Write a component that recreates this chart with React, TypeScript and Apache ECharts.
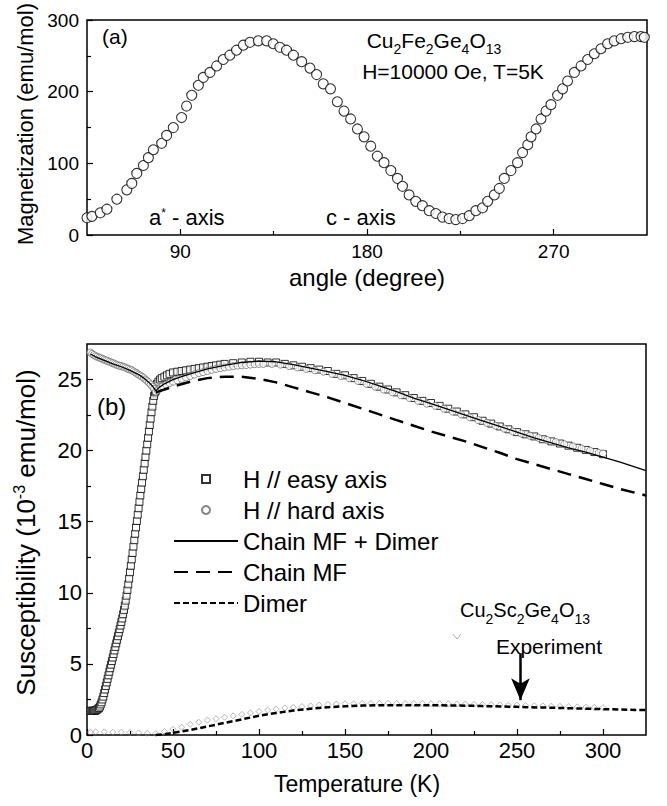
import React, { useEffect, useRef } from 'react';
import * as echarts from 'echarts';

const FONT = '"Liberation Sans", Arial, Helvetica, sans-serif';

// ---------- Panel (a): magnetization vs angle ----------
const angleMagnetization: number[][] = [
  [45, 24], [47.4, 26], [51.4, 31], [54.6, 36], [59.4, 50], [64.2, 63], [66.6, 72], [69.0, 86],
  [72.2, 97], [74.6, 108], [77.0, 119], [81.0, 128], [83.4, 139], [86.6, 150], [90.6, 164],
  [93.0, 180], [95.5, 195], [98.7, 209], [101.1, 220], [104.3, 227], [107.5, 236], [110.7, 245],
  [113.9, 251], [117.1, 258], [120.4, 265], [123.6, 269], [127.6, 271], [131.6, 271], [134.8, 267],
  [138.0, 262], [141.2, 258], [144.5, 251], [148.5, 242], [152.5, 233], [155.7, 224], [158.9, 211],
  [162.4, 204], [165.7, 186], [168.9, 173], [172.1, 162], [175.4, 148], [178.6, 137], [181.8, 124],
  [185.0, 110], [188.2, 101], [191.5, 90], [194.7, 79], [197.1, 68], [200.3, 56], [203.5, 47],
  [206.7, 41], [210.0, 34], [213.2, 30], [216.4, 25], [219.6, 23], [222.8, 21.5], [226.1, 23],
  [229.3, 27], [232.5, 34], [235.7, 38], [238.2, 47], [241.4, 56], [243.8, 65], [246.2, 79],
  [249.4, 90], [252.6, 101], [255.0, 115], [257.5, 126], [259.1, 137], [261.5, 148], [263.9, 162],
  [266.3, 173], [268.7, 182], [271.9, 195], [274.3, 204], [276.7, 215], [280.0, 227], [283.2, 236],
  [286.4, 245], [289.6, 253], [292.8, 260], [296.0, 267], [299.2, 271], [302.5, 274], [305.7, 276],
  [308.9, 277], [312.1, 277], [313.7, 276]
];
const angleLabelTicks = [90, 180, 270];
const angleMinorTicks = [135, 225];
const magLabelTicks = [0, 100, 200, 300];
const magMinorTicks = [50, 150, 250];

// ---------- Panel (b): susceptibility vs temperature ----------
const easyAxis: number[][] = [
  [2, 1.7], [2.5, 1.7], [3, 1.7], [3.5, 1.7], [4, 1.7], [4.5, 1.7], [5, 1.72], [5.5, 1.75], [6, 1.8],
  [6.5, 1.85], [7, 1.9], [7.5, 2.0], [8, 2.15], [8.5, 2.3], [9, 2.5], [9.5, 2.7], [10, 2.95],
  [10.5, 3.2], [11, 3.45], [11.5, 3.7], [12, 3.95], [12.5, 4.2], [13, 4.45], [13.5, 4.7], [14, 4.95],
  [14.5, 5.2], [15, 5.45], [15.5, 5.7], [16, 5.95], [16.5, 6.2], [17, 6.45], [17.5, 6.7], [18, 6.95],
  [18.5, 7.2], [19, 7.45], [19.5, 7.7], [20, 7.95], [20.5, 8.2], [21, 8.5], [21.5, 8.8], [22, 9.1],
  [22.5, 9.45], [23, 9.8], [23.5, 10.2], [24, 10.6], [24.5, 11.0], [25, 11.45], [25.5, 11.9],
  [26, 12.35], [26.5, 12.8], [27, 13.25], [27.5, 13.7], [28, 14.15], [28.5, 14.6], [29, 15.05],
  [29.5, 15.5], [30, 15.95], [30.5, 16.4], [31, 16.85], [31.5, 17.3], [32, 17.75], [32.5, 18.2],
  [33, 18.65], [33.5, 19.1], [34, 19.55], [34.5, 20.0], [35, 20.45], [35.5, 20.9], [36, 21.35],
  [36.5, 21.8], [37, 22.25], [37.5, 22.7], [38, 23.1], [38.5, 23.5], [39, 23.85], [39.5, 24.1],
  [40, 24.2], [40.7, 24.7], [41.5, 24.85], [42.5, 25.0], [43.5, 25.1], [45, 25.2], [46.5, 25.3],
  [48, 25.4], [50, 25.5], [52.5, 25.55], [55, 25.6], [57.5, 25.65], [60, 25.7], [62.5, 25.75],
  [65, 25.8], [67.5, 25.85], [70, 25.9], [72.5, 25.95], [75, 26.0], [77.5, 26.05], [80, 26.1],
  [85, 26.15], [90, 26.2], [95, 26.25], [100, 26.25], [105, 26.2], [110, 26.2], [115, 26.1],
  [120, 26.0], [125, 25.9], [130, 25.8], [135, 25.7], [140, 25.6], [145, 25.4], [150, 25.3],
  [155, 25.1], [160, 24.9], [165, 24.7], [170, 24.5], [175, 24.3], [180, 24.1], [185, 23.9],
  [190, 23.7], [195, 23.5], [200, 23.35], [205, 23.15], [210, 22.95], [215, 22.75], [220, 22.55],
  [225, 22.35], [230, 22.1], [235, 21.9], [240, 21.7], [245, 21.5], [250, 21.3], [255, 21.15],
  [260, 21.0], [265, 20.8], [270, 20.65], [275, 20.5], [280, 20.35], [285, 20.2], [290, 20.05],
  [295, 19.9], [300, 19.75]
];

const hardAxis: number[][] = [
  [2, 26.9], [3, 26.8], [4, 26.72], [5, 26.65], [6, 26.6], [7, 26.55], [8, 26.5], [9, 26.45],
  [10, 26.4], [11, 26.35], [12, 26.3], [13, 26.25], [14, 26.2], [15, 26.15], [16, 26.1], [17, 26.05],
  [18, 26.0], [19, 25.97], [20, 25.94], [21, 25.9], [22, 25.85], [23, 25.8], [24, 25.75], [25, 25.7],
  [26, 25.65], [27, 25.58], [28, 25.5], [29, 25.43], [30, 25.35], [31, 25.28], [32, 25.2], [33, 25.1],
  [34, 25.0], [35, 24.9], [36, 24.8], [37, 24.65], [38, 24.5], [39, 24.35], [40, 24.15],
  [41, 24.25], [42, 24.35], [43, 24.45], [44, 24.52], [46, 24.65], [48, 24.75], [50, 24.85],
  [52.5, 24.95], [55, 25.05], [57.5, 25.15], [60, 25.25], [62.5, 25.35], [65, 25.45], [67.5, 25.52],
  [70, 25.6], [72.5, 25.68], [75, 25.75], [77.5, 25.8], [80, 25.85], [82.5, 25.9], [85, 25.95],
  [87.5, 25.98], [90, 26.0], [92.5, 26.02], [95, 26.05], [97.5, 26.08], [100, 26.1], [102.5, 26.1],
  [107.5, 26.1], [112.5, 26.05], [117.5, 25.95], [122.5, 25.85], [127.5, 25.75], [132.5, 25.65],
  [137.5, 25.55], [142.5, 25.4], [147.5, 25.25], [152.5, 25.1], [157.5, 24.9], [162.5, 24.7],
  [167.5, 24.5], [172.5, 24.3], [177.5, 24.1], [182.5, 23.9], [187.5, 23.7], [192.5, 23.5],
  [197.5, 23.3], [202.5, 23.15], [207.5, 22.95], [212.5, 22.75], [217.5, 22.55], [222.5, 22.35],
  [227.5, 22.15], [232.5, 21.95], [237.5, 21.75], [242.5, 21.55], [247.5, 21.35], [252.5, 21.2],
  [257.5, 21.05], [262.5, 20.9], [267.5, 20.75], [272.5, 20.6], [277.5, 20.45], [282.5, 20.3],
  [287.5, 20.15], [292.5, 20.0], [297.5, 19.85], [300, 19.8]
];

const chainPlusDimer: number[][] = [
  [2, 26.8], [5, 26.6], [10, 26.35], [15, 26.1], [20, 25.9], [25, 25.65], [30, 25.35], [33, 25.1],
  [36, 24.8], [38, 24.55], [40, 24.2], [42, 24.45], [45, 24.7], [50, 25.0], [55, 25.2], [60, 25.4],
  [70, 25.75], [80, 26.0], [90, 26.2], [100, 26.3], [110, 26.25], [120, 26.05], [130, 25.8],
  [140, 25.55], [150, 25.3], [160, 24.95], [170, 24.55], [180, 24.15], [190, 23.7], [200, 23.3],
  [210, 22.9], [220, 22.5], [230, 22.1], [240, 21.7], [250, 21.3], [260, 20.9], [270, 20.55],
  [280, 20.2], [290, 19.9], [300, 19.55], [310, 19.2], [325, 18.6]
];

const chainMF: number[][] = [
  [40, 24.1], [45, 24.3], [50, 24.5], [60, 24.85], [70, 25.1], [80, 25.2], [90, 25.2], [100, 25.05],
  [110, 24.8], [120, 24.45], [130, 24.1], [140, 23.75], [150, 23.35], [160, 22.95], [170, 22.55],
  [180, 22.15], [190, 21.75], [200, 21.35], [210, 21.0], [220, 20.65], [230, 20.25], [240, 19.85],
  [250, 19.4], [260, 19.05], [270, 18.7], [280, 18.35], [290, 18.0], [300, 17.65], [310, 17.3],
  [325, 16.85]
];

const dimer: number[][] = [
  [40, 0], [45, 0.05], [50, 0.15], [60, 0.35], [70, 0.6], [80, 0.85], [90, 1.1], [100, 1.35],
  [110, 1.55], [120, 1.72], [130, 1.85], [140, 1.95], [150, 2.02], [160, 2.07], [175, 2.1],
  [190, 2.1], [200, 2.1], [225, 2.05], [250, 1.98], [275, 1.9], [300, 1.82], [325, 1.75]
];

const scExperiment: number[][] = [
  [2, 0.2], [5, 0.22], [10, 0.22], [15, 0.2], [20, 0.2], [25, 0.18], [30, 0.15], [35, 0.12],
  [40, 0.1], [45, 0.25], [50, 0.4], [55, 0.55], [60, 0.75], [65, 0.9], [70, 1.05], [75, 1.15],
  [80, 1.25], [85, 1.35], [90, 1.45], [95, 1.55], [100, 1.65], [105, 1.75], [110, 1.82], [115, 1.9],
  [120, 1.95], [125, 2.0], [130, 2.05], [135, 2.1], [140, 2.15], [145, 2.18], [150, 2.2], [155, 2.2],
  [160, 2.22], [165, 2.22], [170, 2.23], [175, 2.23], [180, 2.23], [185, 2.22], [190, 2.22],
  [195, 2.22], [200, 2.2], [205, 2.2], [210, 2.2], [215, 2.18], [220, 2.18], [225, 2.16], [230, 2.15],
  [235, 2.14], [240, 2.12], [245, 2.1], [250, 2.1], [255, 2.08], [260, 2.06], [265, 2.05],
  [270, 2.03], [275, 2.02], [280, 2.0], [285, 1.98], [290, 1.96], [295, 1.95], [300, 1.93]
];

const tempLabelTicks = [0, 50, 100, 150, 200, 250, 300];
const tempMinorTicks = [25, 75, 125, 175, 225, 275];
const suscLabelTicks = [0, 5, 10, 15, 20, 25];
const suscMinorTicks = [2.5, 7.5, 12.5, 17.5, 22.5];
const arrowFrom = [252, 5.75];
const arrowTo = [252, 2.45];

const legendNames = ['H // easy axis', 'H // hard axis', 'Chain MF + Dimer', 'Chain MF', 'Dimer'];

export default function App() {
  const ref = useRef<HTMLDivElement>(null);

  useEffect(() => {
    const chart = echarts.init(ref.current!, null, { renderer: 'svg' });
    const tickLine = { color: '#000', width: 1.2 };
    const txt = (text: string, x: number, y: number, size: number, align = 'left', rich?: any, lh?: number) => ({
      type: 'text',
      x,
      y,
      silent: true,
      style: {
        text,
        fill: '#000',
        fontSize: size,
        fontFamily: FONT,
        align,
        verticalAlign: 'middle',
        lineHeight: lh ?? (rich ? 32 : size),
        rich,
      },
    });
    const subRich = (size: number) => ({
      s: { fontSize: size, fontFamily: FONT, verticalAlign: 'bottom', lineHeight: size, fill: '#000' },
    });
    const hiddenDot = { color: 'rgba(0,0,0,0)', borderWidth: 0, opacity: 0 };

    const option: any = {
      animation: false,
      backgroundColor: '#fff',
      textStyle: { fontFamily: FONT, color: '#000' },
      grid: [
        { left: 87, top: 12, width: 560, height: 223, show: true, borderColor: '#000', borderWidth: 1.5 },
        { left: 87, top: 344, width: 559, height: 391, show: true, borderColor: '#000', borderWidth: 1.5 },
      ],
      xAxis: [
        {
          gridIndex: 0, type: 'value', min: 45, max: 315, position: 'bottom',
          axisLine: { show: false }, splitLine: { show: false },
          axisTick: { inside: true, length: 6, lineStyle: tickLine, customValues: angleLabelTicks },
          axisLabel: { customValues: angleLabelTicks, fontSize: 19, color: '#000', margin: 7, fontFamily: FONT },
          name: 'angle (degree)', nameLocation: 'middle', nameGap: 30,
          nameTextStyle: { fontSize: 24, color: '#000', fontFamily: FONT },
        },
        {
          gridIndex: 0, type: 'value', min: 45, max: 315, position: 'bottom',
          axisLine: { show: false }, splitLine: { show: false },
          axisTick: { inside: true, length: 4, lineStyle: tickLine, customValues: angleMinorTicks },
          axisLabel: { show: false },
        },
        {
          gridIndex: 1, type: 'value', min: 0, max: 325, position: 'bottom',
          axisLine: { show: false }, splitLine: { show: false },
          axisTick: { inside: true, length: 6, lineStyle: tickLine, customValues: tempLabelTicks },
          axisLabel: { customValues: tempLabelTicks, fontSize: 22, color: '#000', margin: 4, fontFamily: FONT },
          name: 'Temperature (K)', nameLocation: 'middle', nameGap: 37,
          nameTextStyle: { fontSize: 23, color: '#000', fontFamily: FONT, padding: [0, 19, 0, 0] },
        },
        {
          gridIndex: 1, type: 'value', min: 0, max: 325, position: 'bottom',
          axisLine: { show: false }, splitLine: { show: false },
          axisTick: { inside: true, length: 4, lineStyle: tickLine, customValues: tempMinorTicks },
          axisLabel: { show: false },
        },
      ],
      yAxis: [
        {
          gridIndex: 0, type: 'value', min: 0, max: 300, position: 'left',
          axisLine: { show: false }, splitLine: { show: false },
          axisTick: { inside: true, length: 6, lineStyle: tickLine, customValues: magLabelTicks },
          axisLabel: { customValues: magLabelTicks, fontSize: 19, color: '#000', margin: 8, fontFamily: FONT },
          name: 'Magnetization (emu/mol)', nameLocation: 'middle', nameGap: 47,
          nameTextStyle: { fontSize: 22, color: '#000', fontFamily: FONT, padding: [0, 0, 0, 7] },
        },
        {
          gridIndex: 0, type: 'value', min: 0, max: 300, position: 'left',
          axisLine: { show: false }, splitLine: { show: false },
          axisTick: { inside: true, length: 4, lineStyle: tickLine, customValues: magMinorTicks },
          axisLabel: { show: false },
        },
        {
          gridIndex: 1, type: 'value', min: 0, max: 27.5, position: 'left',
          axisLine: { show: false }, splitLine: { show: false },
          axisTick: { inside: true, length: 6, lineStyle: tickLine, customValues: suscLabelTicks },
          axisLabel: { customValues: suscLabelTicks, fontSize: 22, color: '#000', margin: 5, fontFamily: FONT },
          name: 'Susceptibility (10{sup|-3} emu/mol)', nameLocation: 'middle', nameGap: 46,
          nameTextStyle: {
            fontSize: 26, color: '#000', fontFamily: FONT, lineHeight: 30, padding: [0, 0, 0, 14],
            rich: { sup: { fontSize: 16, fontFamily: FONT, verticalAlign: 'top', lineHeight: 16, color: '#000' } },
          },
        },
        {
          gridIndex: 1, type: 'value', min: 0, max: 27.5, position: 'left',
          axisLine: { show: false }, splitLine: { show: false },
          axisTick: { inside: true, length: 4, lineStyle: tickLine, customValues: suscMinorTicks },
          axisLabel: { show: false },
        },
      ],
      legend: {
        orient: 'vertical', left: 168, top: 462, itemWidth: 64, itemHeight: 8, itemGap: 7,
        selectedMode: false,
        textStyle: { fontSize: 24, color: '#000', fontFamily: FONT, lineHeight: 24 },
        data: [
          { name: legendNames[0], icon: 'path://M0,0L10,0L10,10L0,10Z' },
          { name: legendNames[1], icon: 'circle' },
          { name: legendNames[2], itemStyle: hiddenDot },
          { name: legendNames[3], itemStyle: hiddenDot },
          { name: legendNames[4], itemStyle: hiddenDot },
        ],
      },
      series: [
        {
          name: 'Magnetization', type: 'scatter', xAxisIndex: 0, yAxisIndex: 0,
          data: angleMagnetization, symbol: 'circle', symbolSize: 10,
          itemStyle: { color: '#fff', borderColor: '#000', borderWidth: 1.1 },
        },
        {
          name: 'Cu2Sc2Ge4O13 Experiment', type: 'scatter', xAxisIndex: 2, yAxisIndex: 2,
          data: scExperiment, symbol: 'diamond', symbolSize: 6,
          itemStyle: { color: 'rgba(255,255,255,0)', borderColor: '#8c8c8c', borderWidth: 0.8 },
        },
        {
          name: legendNames[0], type: 'scatter', xAxisIndex: 2, yAxisIndex: 2,
          data: easyAxis, symbol: 'rect', symbolSize: 7,
          itemStyle: { color: '#fff', borderColor: '#000', borderWidth: 1 },
        },
        {
          name: legendNames[1], type: 'scatter', xAxisIndex: 2, yAxisIndex: 2,
          data: hardAxis, symbol: 'circle', symbolSize: 7,
          itemStyle: { color: '#fff', borderColor: '#666', borderWidth: 0.9 },
        },
        {
          name: legendNames[2], type: 'line', xAxisIndex: 2, yAxisIndex: 2,
          data: chainPlusDimer, symbol: 'none', smooth: false,
          lineStyle: { color: '#000', width: 1.3, type: 'solid' },
          itemStyle: { color: '#000' },
        },
        {
          name: legendNames[3], type: 'line', xAxisIndex: 2, yAxisIndex: 2,
          data: chainMF, symbol: 'none',
          lineStyle: { color: '#000', width: 2.5, type: [14, 8] },
          itemStyle: { color: '#000' },
        },
        {
          name: legendNames[4], type: 'line', xAxisIndex: 2, yAxisIndex: 2,
          data: dimer, symbol: 'none',
          lineStyle: { color: '#000', width: 2.5, type: [6, 3] },
          itemStyle: { color: '#000' },
          markLine: {
            silent: true, animation: false,
            symbol: ['none', 'arrow'], symbolSize: [14, 22],
            lineStyle: { color: '#000', width: 2.5, type: 'solid' },
            label: { show: false },
            data: [[{ coord: arrowFrom }, { coord: arrowTo }]],
          },
        },
      ],
      graphic: [
        txt('(a)', 102, 36, 21),
        txt('Cu{s|2}Fe{s|2}Ge{s|4}O{s|13}', 434, 40, 21, 'center', subRich(14)),
        txt('H=10000 Oe, T=5K', 453, 71, 21, 'center'),
        txt('a{sup|*} - axis', 149, 217, 22, 'left', {
          sup: { fontSize: 12, fontFamily: FONT, verticalAlign: 'top', lineHeight: 12, fill: '#000' },
        }, 20),
        txt('c - axis', 326, 217, 22),
        txt('(b)', 97, 406, 24),
        txt('Cu{s|2}Sc{s|2}Ge{s|4}O{s|13}', 525, 610, 20, 'center', subRich(14)),
        txt('Experiment', 549, 646, 21, 'center'),
        {
          type: 'polyline', silent: true,
          shape: { points: [[453, 634], [457, 639], [461, 634]] },
          style: { stroke: '#999', lineWidth: 0.8, fill: 'none' },
        },
      ],
    };
    chart.setOption(option);
    return () => chart.dispose();
  }, []);

  return (
    <div
      ref={ref}
      style={{ position: 'absolute', left: 0, top: 0, width: 667, height: 806, background: '#fff' }}
    />
  );
}
